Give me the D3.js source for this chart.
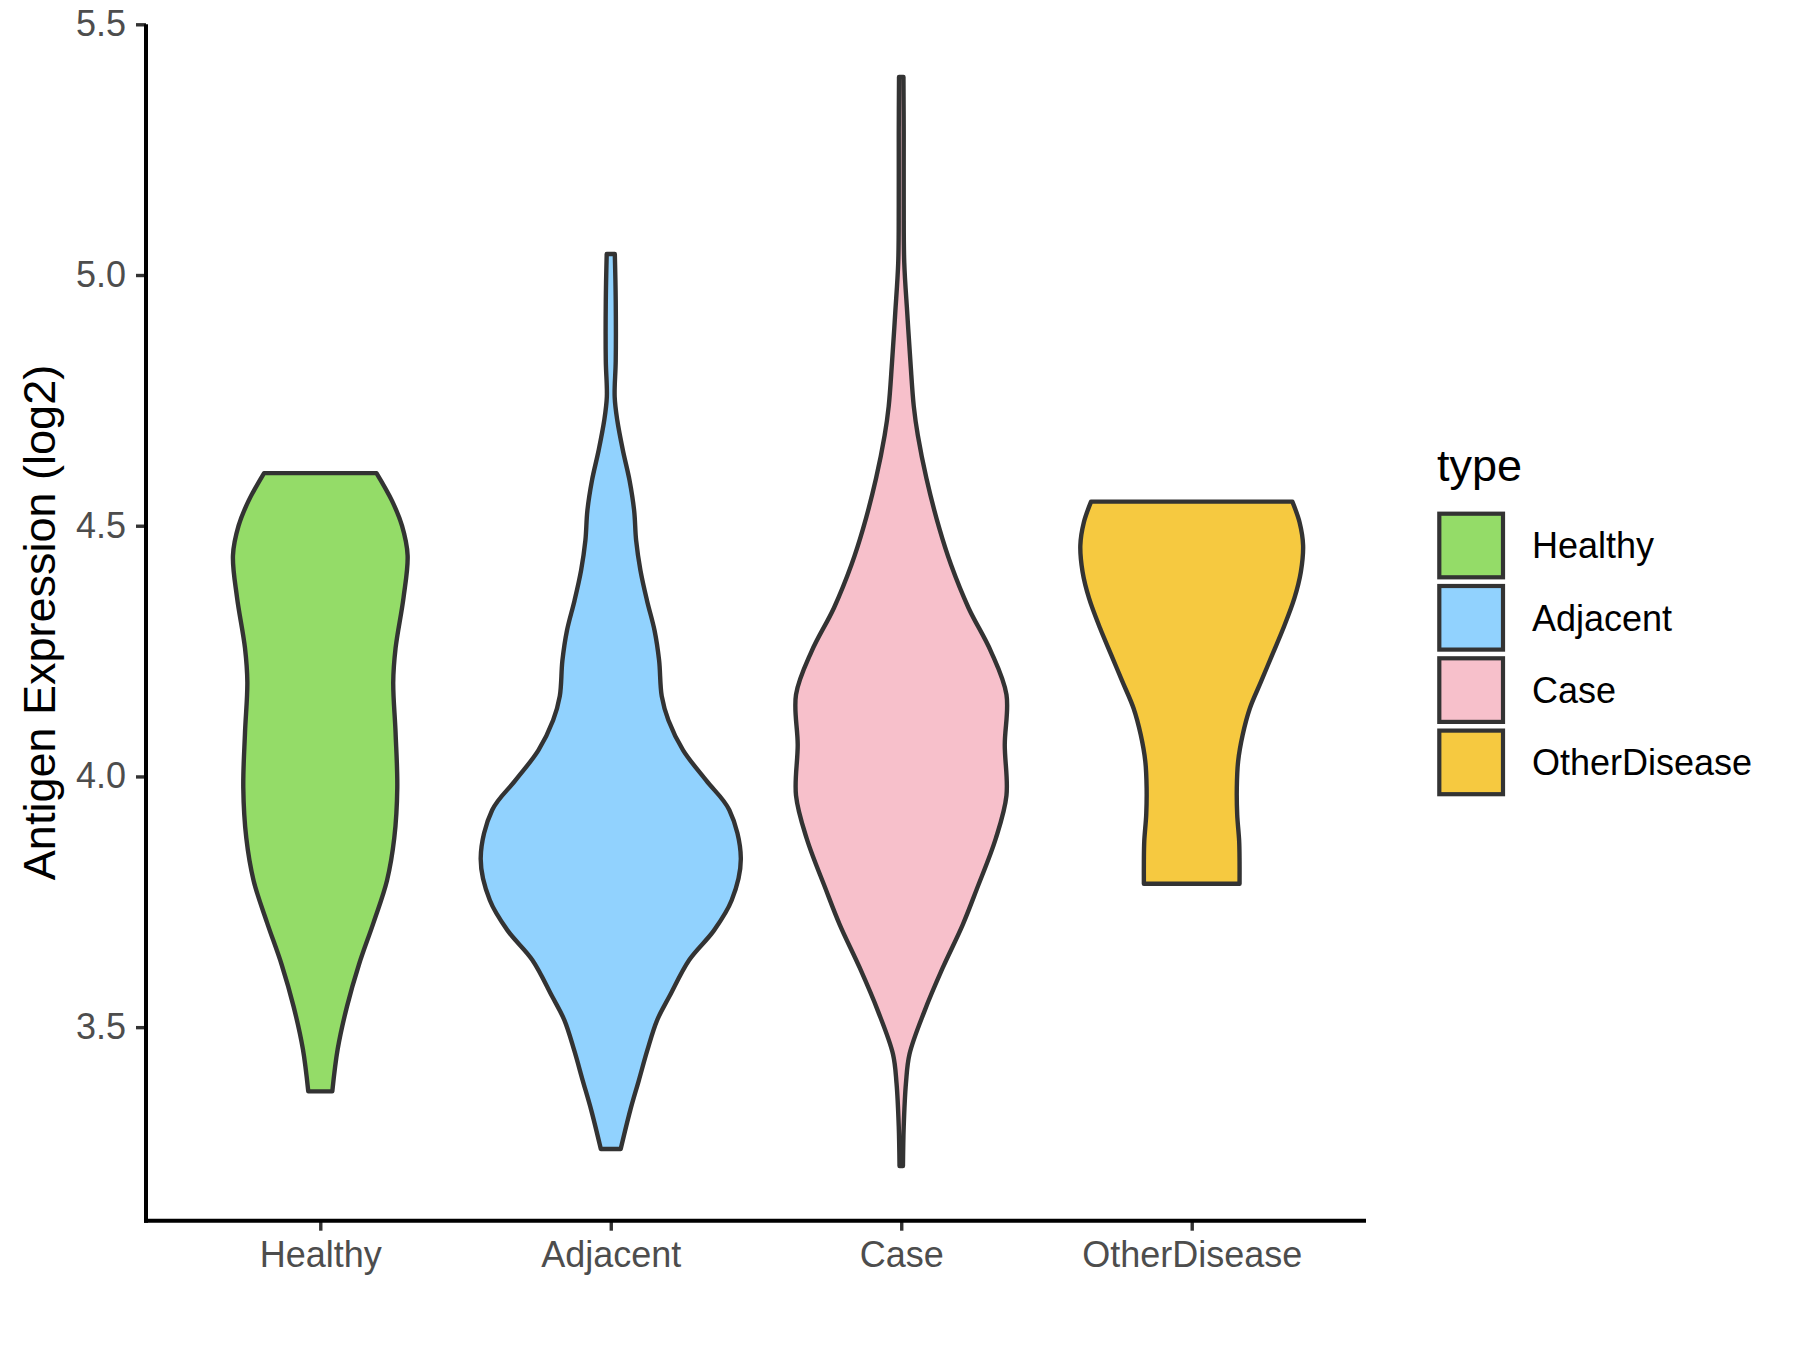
<!DOCTYPE html>
<html>
<head>
<meta charset="utf-8">
<script src="https://cdn.jsdelivr.net/npm/d3@7"></script>
<style>
  body { margin: 0; background: #fff; }
  text { font-family: "Liberation Sans", Arial, sans-serif; }
</style>
</head>
<body>
<div id="chart"></div>
<script>
// categories and fills
var categories = ['Healthy', 'Adjacent', 'Case', 'OtherDisease']
var fills = ['#94DC68', '#91D2FE', '#F7C0CB', '#F6C940']

// violin outlines: [expression, relative density]
var healthyProfile = [
  [3.372, 0.092], [3.456, 0.133], [3.541, 0.204], [3.625, 0.296], [3.709, 0.408],
  [3.792, 0.510], [3.877, 0.566], [3.977, 0.589], [4.087, 0.576], [4.188, 0.558],
  [4.256, 0.576], [4.357, 0.637], [4.441, 0.668], [4.500, 0.625], [4.550, 0.548],
  [4.605, 0.430]
]
var adjacentProfile = [
  [3.257, 0.076], [3.335, 0.150], [3.394, 0.215], [3.454, 0.280], [3.514, 0.355],
  [3.562, 0.450], [3.634, 0.600], [3.693, 0.790], [3.753, 0.925], [3.837, 0.995],
  [3.933, 0.907], [3.992, 0.730], [4.052, 0.554], [4.112, 0.441], [4.160, 0.390],
  [4.231, 0.370], [4.291, 0.335], [4.351, 0.277], [4.411, 0.227], [4.471, 0.194],
  [4.530, 0.179], [4.590, 0.144], [4.650, 0.093], [4.710, 0.050], [4.757, 0.030],
  [4.829, 0.038], [4.949, 0.038], [5.042, 0.031]
]
var caseProfile = [
  [3.223, 0.013], [3.302, 0.019], [3.388, 0.036], [3.446, 0.063], [3.532, 0.178],
  [3.618, 0.317], [3.704, 0.470], [3.776, 0.579], [3.876, 0.723], [3.962, 0.805],
  [4.063, 0.792], [4.163, 0.805], [4.250, 0.685], [4.336, 0.515], [4.422, 0.381],
  [4.494, 0.292], [4.594, 0.193], [4.680, 0.127], [4.738, 0.096], [4.824, 0.071],
  [4.924, 0.046], [5.025, 0.023], [5.139, 0.019], [5.283, 0.019], [5.395, 0.017]
]
var otherProfile = [
  [3.786, 0.366], [3.831, 0.366], [3.871, 0.363], [3.924, 0.348], [3.977, 0.345],
  [4.030, 0.355], [4.083, 0.390], [4.136, 0.445], [4.189, 0.530], [4.242, 0.615],
  [4.295, 0.700], [4.355, 0.785], [4.408, 0.835], [4.461, 0.852], [4.507, 0.825],
  [4.548, 0.770]
]
var profiles = [healthyProfile, adjacentProfile, caseProfile, otherProfile]

var yTicks = [3.5, 4.0, 4.5, 5.0, 5.5]
var yDomain = [3.114, 5.5]

var w = 1800
var h = 1350
var margins = { left: 146, right: 434, top: 24.3, bottom: 129.3 }

var svg = d3.select('#chart').append('svg')
  .attr('width', w)
  .attr('height', h)
  .attr('viewBox', [0, 0, w, h].join(' '))

svg.append('rect').attr('width', w).attr('height', h).attr('fill', '#fff')

var scale_x = d3.scalePoint()
  .domain(categories)
  .range([margins.left, w - margins.right])
  .padding(0.6)

var scale_y = d3.scaleLinear()
  .domain(yDomain)
  .range([h - margins.bottom, margins.top])

// half width of the widest violin is 0.45 of the category step
var scale_w = d3.scaleLinear()
  .domain([0, 1])
  .range([0, scale_x.step() * 0.45])

// violins
categories.forEach(function (cat, i) {
  var cx = scale_x(cat)
  var area = d3.area()
    .y(function (d) { return scale_y(d[0]) })
    .x0(function (d) { return cx - scale_w(d[1]) })
    .x1(function (d) { return cx + scale_w(d[1]) })
    .curve(d3.curveCatmullRom.alpha(0.5))

  svg.append('path')
    .datum(profiles[i])
    .attr('d', area)
    .attr('fill', fills[i])
    .attr('stroke', '#333333')
    .attr('stroke-width', 4.4)
    .attr('stroke-linejoin', 'round')
})

// y axis
var yAxis = svg.append('g')
  .attr('transform', 'translate(' + margins.left + ',0)')
  .call(d3.axisLeft(scale_y).tickValues(yTicks).tickFormat(d3.format('.1f')).tickSize(10).tickPadding(10))
yAxis.select('.domain').remove()
yAxis.selectAll('.tick line').attr('stroke', '#333333').attr('stroke-width', 3.4)
yAxis.selectAll('.tick text')
  .attr('fill', '#4D4D4D')
  .style('font-size', '36px')
  .style('font-family', '"Liberation Sans", Arial, sans-serif')

// x axis
var xAxis = svg.append('g')
  .attr('transform', 'translate(0,' + (h - margins.bottom) + ')')
  .call(d3.axisBottom(scale_x).tickSize(10).tickPadding(10))
xAxis.select('.domain').remove()
xAxis.selectAll('.tick line').attr('stroke', '#333333').attr('stroke-width', 3.4)
xAxis.selectAll('.tick text')
  .attr('fill', '#4D4D4D')
  .attr('dy', '0.72em')
  .style('font-size', '36px')
  .style('font-family', '"Liberation Sans", Arial, sans-serif')

// axis lines
svg.append('line')
  .attr('x1', margins.left).attr('x2', margins.left)
  .attr('y1', margins.top).attr('y2', h - margins.bottom + 2)
  .attr('stroke', '#000').attr('stroke-width', 4)
svg.append('line')
  .attr('x1', margins.left - 2).attr('x2', w - margins.right)
  .attr('y1', h - margins.bottom).attr('y2', h - margins.bottom)
  .attr('stroke', '#000').attr('stroke-width', 4)

// y title
svg.append('text')
  .text('Antigen Expression (log2)')
  .attr('transform', 'translate(55,' + ((margins.top + h - margins.bottom) / 2) + ') rotate(-90)')
  .attr('text-anchor', 'middle')
  .attr('fill', '#000')
  .style('font-size', '45px')

// legend
var legend = svg.append('g')
svg.append('text')
  .text('type')
  .attr('x', 1437)
  .attr('y', 481)
  .attr('fill', '#000')
  .style('font-size', '45px')

categories.forEach(function (cat, i) {
  var ky = 513.7 + i * 72.3
  legend.append('rect')
    .attr('x', 1439.3)
    .attr('y', ky)
    .attr('width', 63.7)
    .attr('height', 63.6)
    .attr('fill', fills[i])
    .attr('stroke', '#333333')
    .attr('stroke-width', 4.2)
  legend.append('text')
    .text(cat)
    .attr('x', 1532)
    .attr('y', ky + 31.8)
    .attr('dy', '0.36em')
    .attr('fill', '#000')
    .style('font-size', '36px')
})
</script>
</body>
</html>
